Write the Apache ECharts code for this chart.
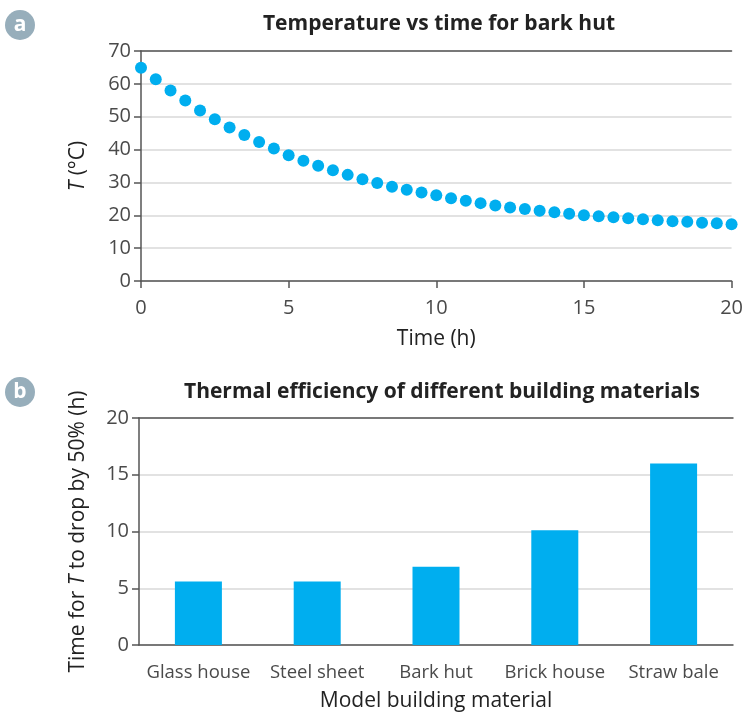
<!DOCTYPE html>
<html>
<head>
<meta charset="utf-8">
<script src="https://cdn.jsdelivr.net/npm/echarts@6/dist/echarts.min.js"></script>
<style>
  html, body { margin: 0; padding: 0; background: #fff; }
  #chart { width: 746px; height: 713px; }
</style>
</head>
<body>
<div id="chart"></div>
<script>
// panel a: temperature readings every half hour
const hours = [0, 0.5, 1, 1.5, 2, 2.5, 3, 3.5, 4, 4.5, 5, 5.5, 6, 6.5, 7, 7.5, 8, 8.5, 9, 9.5,
  10, 10.5, 11, 11.5, 12, 12.5, 13, 13.5, 14, 14.5, 15, 15.5, 16, 16.5, 17, 17.5, 18, 18.5, 19, 19.5, 20];
const temps = [64.9, 61.4, 58.0, 54.9, 51.9, 49.2, 46.7, 44.4, 42.3, 40.3, 38.3, 36.6, 35.1, 33.7, 32.3,
  31.0, 29.8, 28.7, 27.8, 26.9, 26.1, 25.2, 24.4, 23.7, 23.0, 22.4, 21.9, 21.4, 20.9, 20.5,
  20.0, 19.7, 19.4, 19.1, 18.8, 18.5, 18.2, 18.0, 17.7, 17.6, 17.3];

// panel b: half-life per material
const materials = ['Glass house', 'Steel sheet', 'Bark hut', 'Brick house', 'Straw bale'];
const halfTimes = [5.6, 5.6, 6.9, 10.1, 16.0];

const BLUE = '#00aeef';
const AXIS = '#555';
const FONT = 'Open Sans';

const chart = echarts.init(document.getElementById('chart'));

const numLabel = { color: '#4a4a4a', fontSize: 20, fontFamily: FONT };
const catLabel = { color: '#4a4a4a', fontSize: 18.5, fontFamily: FONT };
const nameStyle = {
  color: '#222', fontSize: 21, fontFamily: FONT,
  rich: { i: { fontStyle: 'italic', color: '#222', fontSize: 21, fontFamily: FONT } }
};

// top border line drawn as an extra axis with nothing but its line
const topLine = (grid) => ({
  type: 'value', gridIndex: grid, position: 'top',
  axisLine: { show: true, lineStyle: { color: AXIS, width: 1.5 } },
  axisTick: { show: false }, axisLabel: { show: false }, splitLine: { show: false }
});

const option = {
  animation: false,
  title: [
    {
      text: 'Temperature vs time for bark hut', left: 434, top: 9, textAlign: 'center',
      textStyle: { fontSize: 21, fontWeight: 'bold', color: '#222', fontFamily: FONT }
    },
    {
      text: 'Thermal efficiency of different building materials', left: 437, top: 377, textAlign: 'center',
      textStyle: { fontSize: 21, fontWeight: 'bold', color: '#222', fontFamily: FONT }
    }
  ],
  graphic: [
    { type: 'circle', shape: { cx: 20, cy: 25, r: 15 }, style: { fill: '#97aebb' } },
    { type: 'text', x: 20, y: 25, style: { text: 'a', fill: '#fff', font: 'bold 21px Open Sans', align: 'center', verticalAlign: 'middle' } },
    { type: 'circle', shape: { cx: 20, cy: 392, r: 15 }, style: { fill: '#97aebb' } },
    { type: 'text', x: 20, y: 392, style: { text: 'b', fill: '#fff', font: 'bold 21px Open Sans', align: 'center', verticalAlign: 'middle' } }
  ],
  grid: [
    { left: 141, right: 13, top: 51, height: 230 },
    { left: 139, right: 13, top: 418, height: 228 }
  ],
  xAxis: [
    {
      type: 'value', gridIndex: 0, min: 0, max: 20, interval: 5,
      name: 'Time (h)', nameLocation: 'middle', nameGap: 48, nameTextStyle: nameStyle,
      axisLine: { lineStyle: { color: AXIS, width: 1.5 } },
      axisTick: { lineStyle: { color: AXIS, width: 1.5 }, length: 7 },
      axisLabel: Object.assign({ margin: 17 }, numLabel),
      splitLine: { show: false }
    },
    {
      type: 'category', gridIndex: 1, data: materials,
      name: 'Model building material', nameLocation: 'middle', nameGap: 46, nameTextStyle: nameStyle,
      axisLine: { lineStyle: { color: AXIS, width: 1.5 } },
      axisTick: { lineStyle: { color: AXIS, width: 1.5 }, length: 7 },
      axisLabel: Object.assign({ margin: 18, interval: 0 }, catLabel)
    },
    Object.assign(topLine(0), { min: 0, max: 20 }),
    Object.assign(topLine(1), { type: 'category', data: materials })
  ],
  yAxis: [
    {
      type: 'value', gridIndex: 0, min: 0, max: 70, interval: 10,
      name: '{i|T} (°C)', nameLocation: 'middle', nameGap: 52, nameTextStyle: nameStyle,
      axisLine: { show: true, lineStyle: { color: AXIS, width: 1.5 } },
      axisTick: { show: true, lineStyle: { color: AXIS, width: 1.5 }, length: 7 },
      axisLabel: Object.assign({ margin: 10 }, numLabel),
      splitLine: { lineStyle: { color: '#d9d9d9', width: 1.5 } }
    },
    {
      type: 'value', gridIndex: 1, min: 0, max: 20, interval: 5,
      name: 'Time for {i|T} to drop by 50% (h)', nameLocation: 'middle', nameGap: 50, nameTextStyle: nameStyle,
      axisLine: { show: true, lineStyle: { color: AXIS, width: 1.5 } },
      axisTick: { show: true, lineStyle: { color: AXIS, width: 1.5 }, length: 7 },
      axisLabel: Object.assign({ margin: 10 }, numLabel),
      splitLine: { lineStyle: { color: '#d9d9d9', width: 1.5 } }
    }
  ],
  series: [
    {
      type: 'scatter', xAxisIndex: 0, yAxisIndex: 0,
      data: hours.map((h, i) => [h, temps[i]]),
      symbolSize: 12, itemStyle: { color: BLUE, opacity: 1 }
    },
    {
      type: 'bar', xAxisIndex: 1, yAxisIndex: 1,
      data: halfTimes, barWidth: 47, itemStyle: { color: BLUE }
    }
  ]
};

chart.setOption(option);
</script>
</body>
</html>
